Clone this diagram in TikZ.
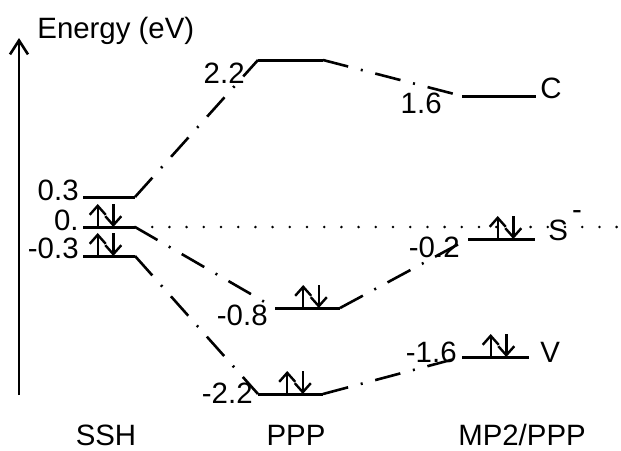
\documentclass[tikz,border=0pt]{standalone}
\usepackage{fontspec}
\setmainfont{Liberation Sans}
\usetikzlibrary{positioning,arrows.meta}

\newcommand{\updown}[1]{%
	\draw[spin] ([xshift=-3.9pt]#1) -- ++(0,-23);
	\draw[spin] ([xshift=3.9pt,yshift=11.5pt]#1) -- ++(0,23);}

\begin{document}
\begin{tikzpicture}[
		x=0.5pt, y=-0.5pt,
		font=\fontsize{14.7}{17}\selectfont,
		lvl/.style={line width=1.5pt},
		link/.style={line width=1.3pt, dash pattern=on 13pt off 6.5pt on 1pt off 6.5pt},
		ref/.style={line width=1.4pt, line cap=round, dash pattern=on 0pt off 8.6pt},
		spin/.style={-{Straight Barb[length=4.5pt,width=8pt]}, line width=1.2pt},
		val/.style={inner sep=0pt, anchor=base east},
		tag/.style={inner sep=0pt, anchor=base west}
		]
		\useasboundingbox (0,0) rectangle (621,450);
		% energy axis
		\coordinate (ax0) at (19,395);
		\coordinate (ax1) at (19,38);
		\draw[-{Straight Barb[length=7pt,width=9pt]}, line width=1.3pt] (ax0) -- (ax1);
		\node[inner sep=0pt, anchor=base west] (elabel) at (37,38) {Energy (eV)};
		
		% SSH
		\coordinate (s3l) at (83,197); \coordinate (s3r) at (135,197);
		\coordinate (s0l) at (83,227); \coordinate (s0r) at (135,227);
		\coordinate (sml) at (83,256); \coordinate (smr) at (135,256);
		% PPP
		\coordinate (p22l) at (258,60);  \coordinate (p22r) at (323,60);
		\coordinate (p08l) at (275,308); \coordinate (p08r) at (340,308);
		\coordinate (pm2l) at (258,394); \coordinate (pm2r) at (323,394);
		% MP2/PPP
		\coordinate (mcl) at (462,96);  \coordinate (mcr) at (536,96);
		\coordinate (msl) at (468,239); \coordinate (msr) at (535,239);
		\coordinate (mvl) at (462,357); \coordinate (mvr) at (529,357);
		\coordinate (refend) at (621,227);
		
		\foreach \a/\b in {s3l/s3r, s0l/s0r, sml/smr, p22l/p22r, p08l/p08r, pm2l/pm2r, mcl/mcr, msl/msr, mvl/mvr}
		\draw[lvl] (\a) -- (\b);
		
		\draw[ref] (s0r) -- (refend);
		
		\draw[link] (s3r) -- (p22l);
		\draw[link] (s0r) -- (p08l);
		\draw[link] (smr) -- (pm2l);
		\draw[link] (p22r) -- (mcl);
		\draw[link] (p08r) -- (msl);
		\draw[link] (pm2r) -- (mvl);
		
		% electron pairs
		\coordinate (e1) at (105.5,227);
		\coordinate (e2) at (105.5,256);
		\coordinate (e3) at (311,308);
		\coordinate (e4) at (295,394);
		\coordinate (e5) at (505.5,239);
		\coordinate (e6) at (498.5,357);
		\foreach \e in {e1,e2,e3,e4,e5,e6}{
			\updown{\e}
		}
		
		% values
		\node[val] (v03) at (79,200) {0.3};
		\node[val] (v00) at (79,230) {0.};
		\node[val] (vm03) at (79,258) {-0.3};
		\node[val] (v22) at (245,83) {2.2};
		\node[val] (vm08) at (268,325) {-0.8};
		\node[val] (vm22) at (253,403) {-2.2};
		\node[val] (v16) at (442,113) {1.6};
		\node[val] (vm02) at (460,257) {-0.2};
		\node[val] (vm16) at (457,362) {-1.6};
		
		\node[tag] (tc) at (540,98) {C};
		\node[tag] (ts) at (548,240) {S\kern2pt\raisebox{0.7em}{-}};
		\node[tag] (tv) at (540,362) {V};
		
		% methods
		\node[inner sep=0pt, anchor=base] (ssh) at (106,445) {SSH};
		\node[inner sep=0pt, anchor=base] (ppp) at (296,445) {PPP};
		\node[inner sep=0pt, anchor=base] (mp2) at (522,445) {MP2/PPP};
	\end{tikzpicture}
\end{document}
